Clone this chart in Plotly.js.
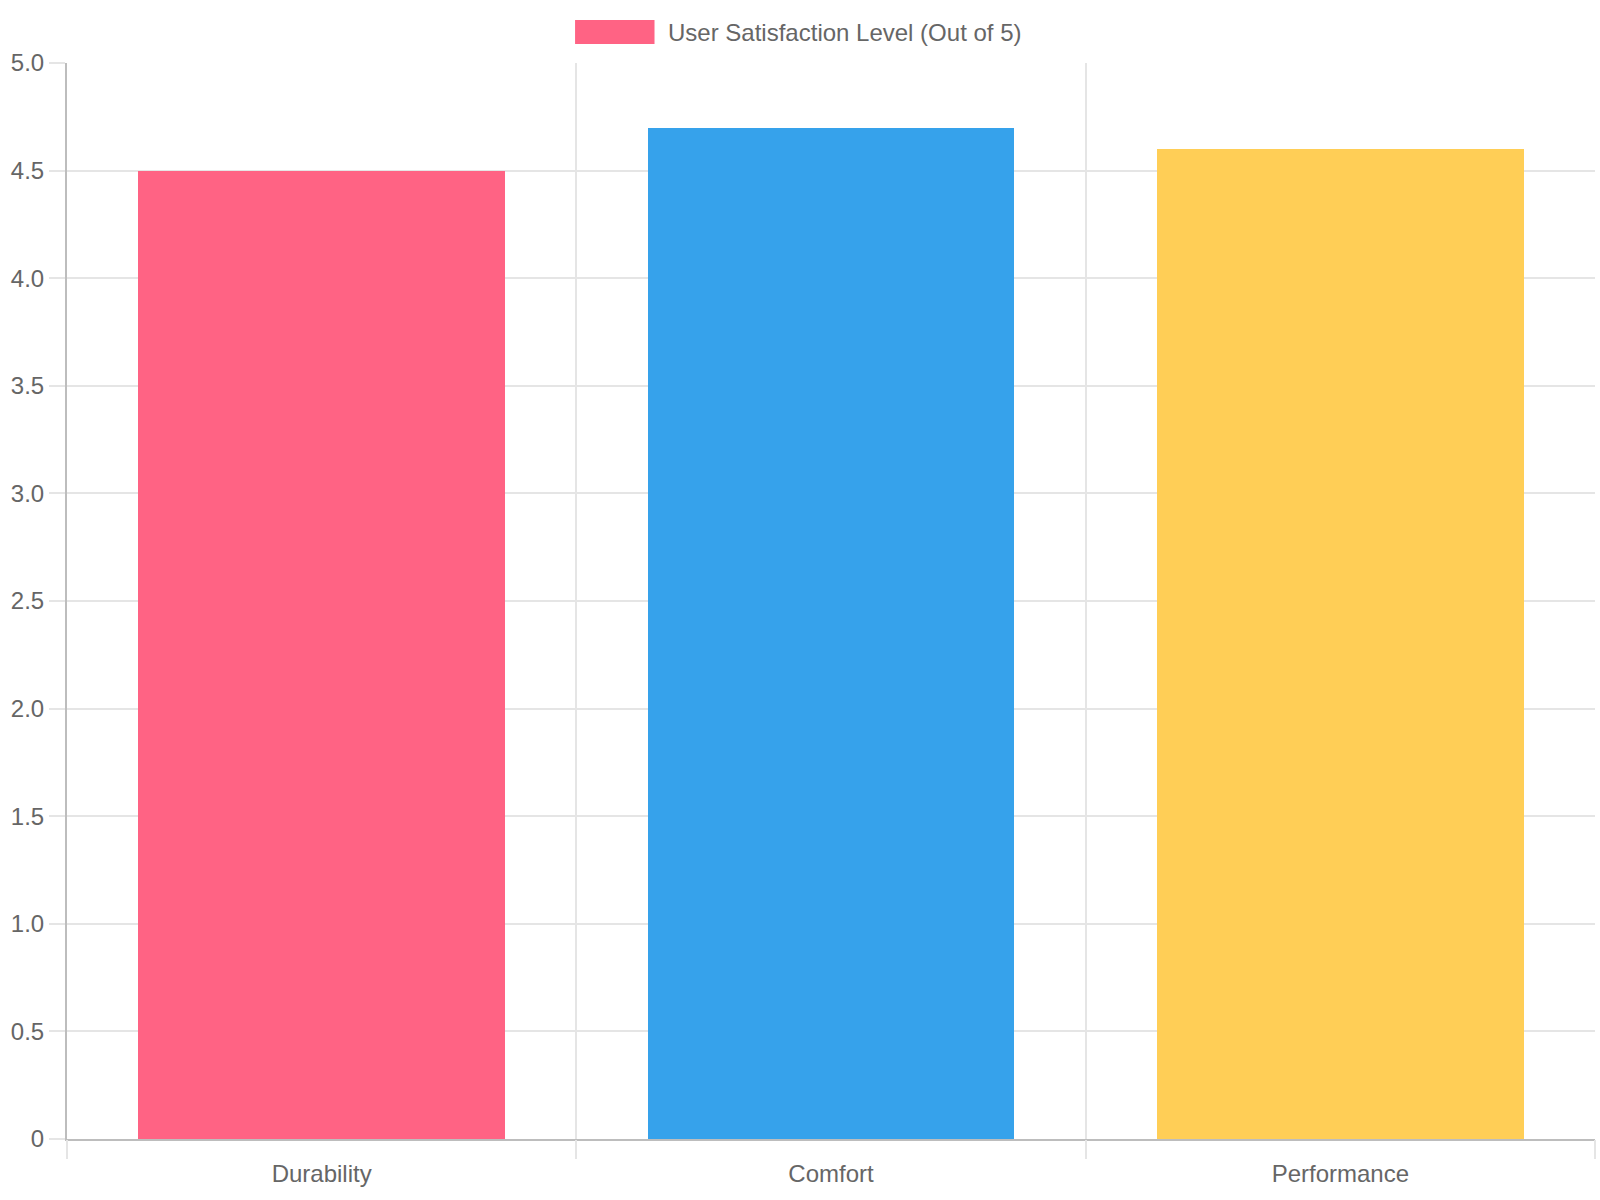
<!DOCTYPE html>
<html>
<head>
<meta charset="utf-8">
<script src="https://cdn.plot.ly/plotly-3.0.1.min.js"></script>
<style>
  html, body { margin: 0; padding: 0; background: #fff; }
  #plot { width: 1600px; height: 1200px; }
</style>
</head>
<body>
<div id="plot"></div>
<script>
"use strict";

// ── Data ──
const categories = ["Durability", "Comfort", "Performance"];
const satisfaction = [4.5, 4.7, 4.6];
const barColors = ["#FF6384", "#36A2EB", "#FFCE56"];
const seriesName = "User Satisfaction Level (Out of 5)";
const yTickVals = [0, 0.5, 1, 1.5, 2, 2.5, 3, 3.5, 4, 4.5, 5];
const yTickText = ["0", "0.5", "1.0", "1.5", "2.0", "2.5", "3.0", "3.5", "4.0", "4.5", "5.0"];

const FONT = "'Liberation Sans', Arial, Helvetica, sans-serif";
const TEXT = "#666666";
const GRID = "#e5e5e5";
const AXIS = "#bdbdbd";

// Category boundaries (offset gridlines, as the bar chart puts them
// between categories rather than through them).
const boundaries = [];
for (let i = 0; i <= categories.length; i++) boundaries.push(i - 0.5);

const traces = [
    {
        type: "bar",
        x: categories, y: satisfaction,
        name: seriesName,
        width: 0.72,
        marker: { color: barColors, line: { width: 0 } },
        hoverinfo: "x+y",
        showlegend: false,
    },
    // carrier so the boundary axis gets drawn
    {
        type: "scatter", mode: "markers",
        x: [null], y: [null], xaxis: "x2",
        hoverinfo: "skip", showlegend: false,
    },
];

const layout = {
    width: 1600, height: 1200,
    margin: { l: 67, r: 5, t: 63, b: 61 },
    paper_bgcolor: "#ffffff", plot_bgcolor: "#ffffff",
    font: { family: FONT, color: TEXT, size: 24 },
    bargap: 0,
    xaxis: {
        type: "category",
        range: [-0.5, categories.length - 0.5],
        showgrid: false, zeroline: false,
        showline: true, linecolor: AXIS, linewidth: 2,
        ticks: "outside", ticklen: 12, tickcolor: "rgba(0,0,0,0)",
        tickfont: { family: FONT, size: 24, color: TEXT },
        fixedrange: true,
    },
    xaxis2: {
        overlaying: "x", side: "bottom",
        range: [-0.5, categories.length - 0.5],
        tickvals: boundaries,
        showticklabels: false,
        showgrid: true, gridcolor: GRID, gridwidth: 2,
        ticks: "outside", ticklen: 19, tickcolor: GRID, tickwidth: 2,
        zeroline: false, showline: false,
        fixedrange: true,
    },
    yaxis: {
        range: [0, 5],
        tickvals: yTickVals, ticktext: yTickText,
        showgrid: true, gridcolor: GRID, gridwidth: 2,
        ticks: "outside", ticklen: 16, tickcolor: GRID, tickwidth: 2,
        showline: true, linecolor: AXIS, linewidth: 2,
        zeroline: false,
        ticklabelstandoff: 0,
        tickfont: { family: FONT, size: 24, color: TEXT },
        fixedrange: true,
    },
    // ── Legend (wide swatch + label, drawn as a shape + annotation) ──
    shapes: [{
        type: "rect", xref: "paper", yref: "paper",
        x0: 0.3325, x1: 0.3845, y0: 1.0177, y1: 1.040,
        fillcolor: barColors[0], line: { width: 0 },
    }],
    annotations: [{
        xref: "paper", yref: "paper",
        x: 0.392, y: 1.0288, xanchor: "left", yanchor: "middle",
        text: seriesName, showarrow: false,
        font: { family: FONT, size: 24, color: TEXT },
    }],
    showlegend: false,
};

Plotly.newPlot("plot", traces, layout, { displayModeBar: false, staticPlot: false });
</script>
</body>
</html>
